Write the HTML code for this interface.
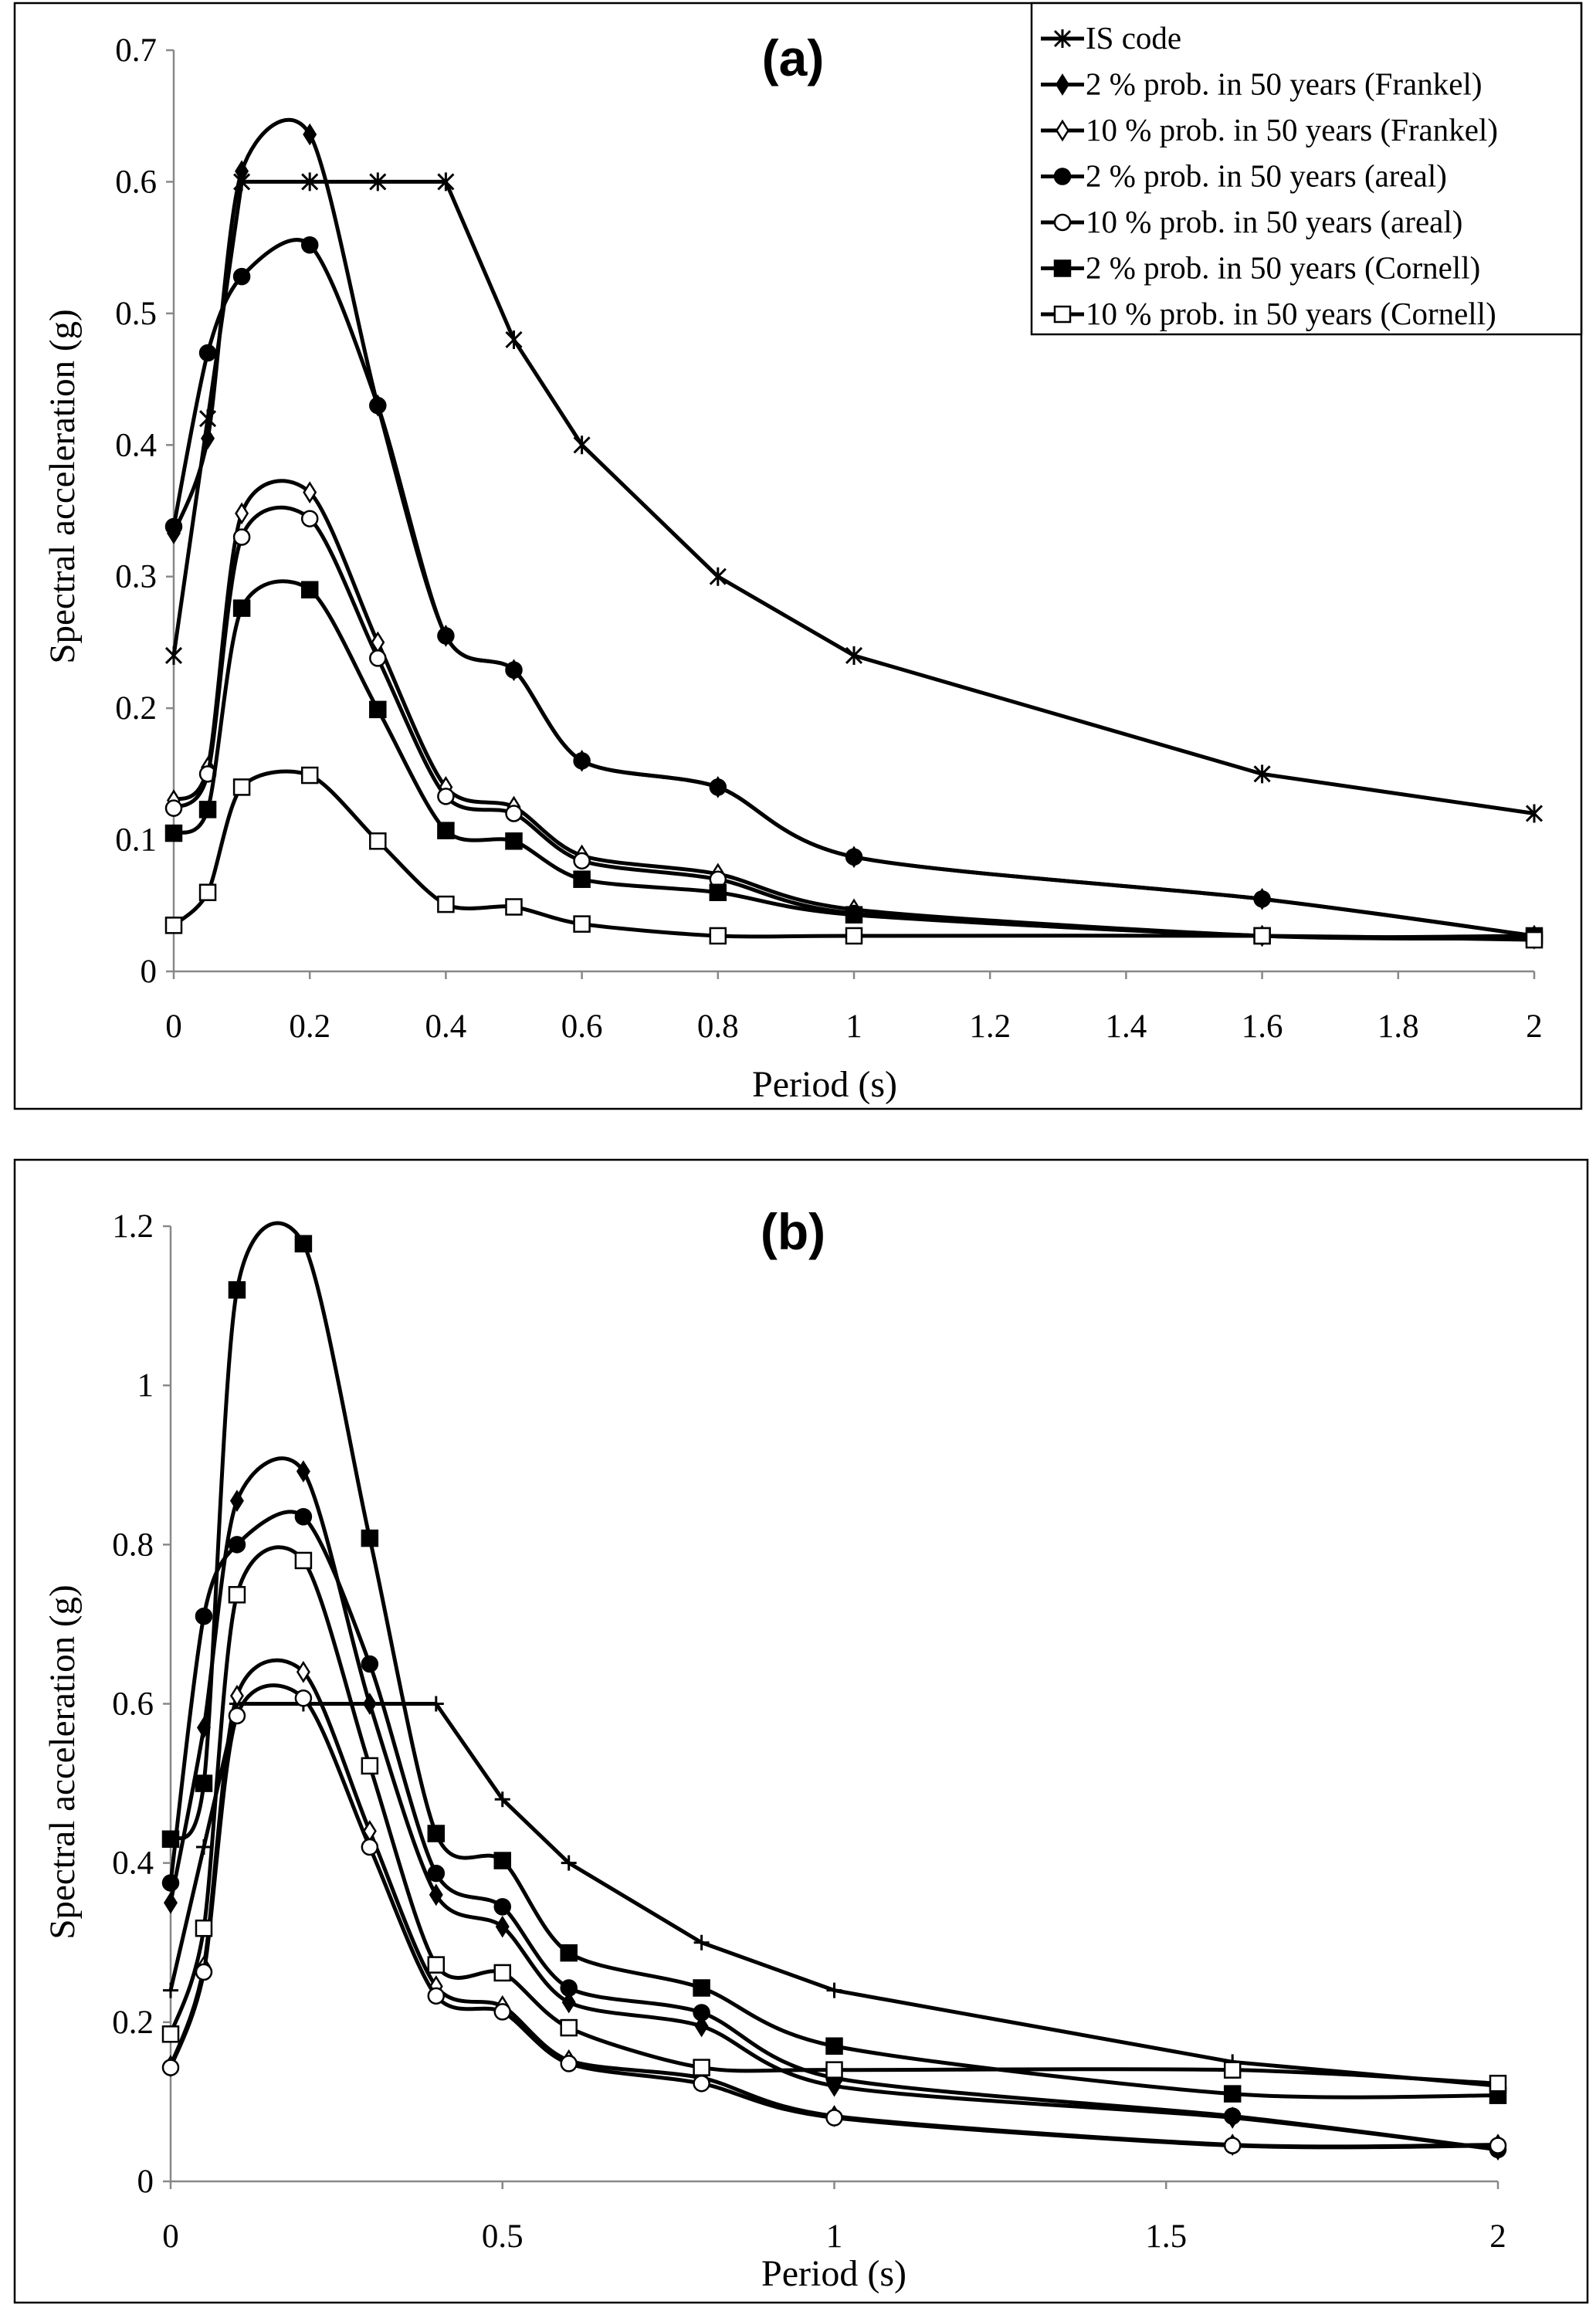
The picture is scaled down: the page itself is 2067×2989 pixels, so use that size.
<!DOCTYPE html>
<html><head><meta charset="utf-8">
<style>
html,body{margin:0;padding:0;background:#fff;}
svg{display:block;font-family:"Liberation Serif",serif;}
</style></head>
<body>
<svg id="fig" width="2067" height="2989" viewBox="0 0 2067 2989" xmlns="http://www.w3.org/2000/svg">
<rect x="0" y="0" width="2067" height="2989" fill="#fff"/>
</svg>
<script>
const xVals = [0,0.05,0.1,0.2,0.3,0.4,0.5,0.6,0.8,1,1.6,2];
const seriesNames = ["IS code","2 % prob. in 50 years (Frankel)","10 % prob. in 50 years (Frankel)","2 % prob. in 50 years (areal)","10 % prob. in 50 years (areal)","2 % prob. in 50 years (Cornell)","10 % prob. in 50 years (Cornell)"];
const aIS = [0.24,0.42,0.6,0.6,0.6,0.6,0.48,0.4,0.3,0.24,0.15,0.12];
const aFrankel2 = [0.333,0.405,0.608,0.636,0.43,0.255,0.229,0.16,0.14,0.087,0.055,0.027];
const aFrankel10 = [0.13,0.155,0.348,0.364,0.25,0.14,0.125,0.088,0.074,0.047,0.027,0.025];
const aAreal2 = [0.338,0.47,0.528,0.552,0.43,0.255,0.229,0.16,0.14,0.087,0.055,0.027];
const aAreal10 = [0.124,0.15,0.33,0.344,0.238,0.133,0.12,0.084,0.07,0.044,0.027,0.025];
const aCornell2 = [0.105,0.123,0.276,0.29,0.199,0.107,0.099,0.07,0.06,0.043,0.027,0.027];
const aCornell10 = [0.035,0.06,0.14,0.149,0.099,0.051,0.049,0.036,0.027,0.027,0.027,0.024];
const bIS = [0.24,0.42,0.6,0.6,0.6,0.6,0.48,0.4,0.3,0.24,0.15,0.12];
const bFrankel2 = [0.35,0.57,0.855,0.892,0.6,0.36,0.32,0.225,0.195,0.12,0.08,0.04];
const bFrankel10 = [0.145,0.27,0.61,0.64,0.44,0.245,0.22,0.152,0.13,0.082,0.046,0.046];
const bAreal2 = [0.375,0.71,0.8,0.835,0.65,0.387,0.345,0.243,0.212,0.13,0.082,0.04];
const bAreal10 = [0.143,0.263,0.585,0.607,0.42,0.233,0.213,0.148,0.123,0.08,0.045,0.045];
const bCornell2 = [0.43,0.5,1.12,1.178,0.808,0.437,0.403,0.287,0.243,0.17,0.11,0.108];
const bCornell10 = [0.185,0.318,0.737,0.78,0.522,0.272,0.262,0.193,0.143,0.14,0.14,0.123];
const aXTicks = ["0","0.2","0.4","0.6","0.8","1","1.2","1.4","1.6","1.8","2"];
const aYTicks = ["0","0.1","0.2","0.3","0.4","0.5","0.6","0.7"];
const bXTicks = ["0","0.5","1","1.5","2"];
const bYTicks = ["0","0.2","0.4","0.6","0.8","1","1.2"];

const NS="http://www.w3.org/2000/svg";
const svg=document.getElementById('fig');
function mk(tag,attrs,parent){const e=document.createElementNS(NS,tag);for(const k in attrs)e.setAttribute(k,attrs[k]);(parent||svg).appendChild(e);return e;}

function smoothPath(pts){
  let d="M"+pts[0][0]+","+pts[0][1];
  for(let i=0;i<pts.length-1;i++){
    const p0=pts[i-1]||pts[i],p1=pts[i],p2=pts[i+1],p3=pts[i+2]||p2;
    const t=0.14;
    const c1=[p1[0]+(p2[0]-p0[0])*t,p1[1]+(p2[1]-p0[1])*t];
    const c2=[p2[0]-(p3[0]-p1[0])*t,p2[1]-(p3[1]-p1[1])*t];
    d+=" C"+c1.join(",")+" "+c2.join(",")+" "+p2.join(",");
  }
  return d;
}
function marker(g,type,x,y,s){
  const h=s/2;
  if(type==="star"){
    mk('path',{d:`M${x-h},${y-h}L${x+h},${y+h}M${x-h},${y+h}L${x+h},${y-h}M${x},${y-h-2}L${x},${y+h+2}`,stroke:"#000","stroke-width":3,fill:"none"},g);
  }else if(type==="plus"){
    mk('path',{d:`M${x-h},${y}L${x+h},${y}M${x},${y-h}L${x},${y+h}`,stroke:"#000","stroke-width":3,fill:"none"},g);
  }else if(type==="dfill"||type==="dopen"){
    mk('path',{d:`M${x},${y-h-2}L${x+h*0.75},${y}L${x},${y+h+2}L${x-h*0.75},${y}Z`,stroke:"#000","stroke-width":2.5,fill:type==="dfill"?"#000":"#fff"},g);
  }else if(type==="cfill"||type==="copen"){
    mk('circle',{cx:x,cy:y,r:h,stroke:"#000","stroke-width":2.5,fill:type==="cfill"?"#000":"#fff"},g);
  }else{
    mk('rect',{x:x-h,y:y-h,width:s,height:s,stroke:"#000","stroke-width":2.5,fill:type==="sfill"?"#000":"#fff"},g);
  }
}

function chart(cfg){
  const g=mk('g',{});
  
  
  const fr=mk('rect',{x:cfg.frame[0],y:cfg.frame[1],width:cfg.frame[2],height:cfg.frame[3],fill:"none",stroke:"#000","stroke-width":2.5},g);
  
  
  const X=v=>cfg.x0+(v-cfg.xmin)/(cfg.xmax-cfg.xmin)*(cfg.x1-cfg.x0);
  const Y=v=>cfg.y0-(v-cfg.ymin)/(cfg.ymax-cfg.ymin)*(cfg.y0-cfg.y1);
  const ax=mk('g',{},g);
  
  
  mk('line',{x1:cfg.x0,y1:cfg.y0,x2:cfg.x1,y2:cfg.y0,stroke:"#888","stroke-width":2.5},ax);
  mk('line',{x1:cfg.x0,y1:cfg.y0,x2:cfg.x0,y2:cfg.y1,stroke:"#888","stroke-width":2.5},ax);
  cfg.xTicks.forEach(t=>{
    const v=parseFloat(t),px=X(v);
    mk('line',{x1:px,y1:cfg.y0,x2:px,y2:cfg.y0+10,stroke:"#888","stroke-width":2.5},ax);
    const tx=mk('text',{x:px,y:cfg.xLabelY,"text-anchor":"middle","font-size":43},ax);
    tx.textContent=t;
    
    
  });
  cfg.yTicks.forEach(t=>{
    const v=parseFloat(t),py=Y(v);
    mk('line',{x1:cfg.x0-10,y1:py,x2:cfg.x0,y2:py,stroke:"#888","stroke-width":2.5},ax);
    const tx=mk('text',{x:cfg.x0-22,y:py+14,"text-anchor":"end","font-size":43},ax);
    tx.textContent=t;
    
    
  });
  const xt=mk('text',{x:cfg.xTitleX,y:cfg.xTitleY,"text-anchor":"middle","font-size":48},g);
  xt.textContent="Period (s)";
  
  
  const yt=mk('text',{x:0,y:0,"text-anchor":"middle","font-size":47,transform:`translate(96,${cfg.yTitleC}) rotate(-90)`},g);
  yt.textContent="Spectral  acceleration (g)";
  
  
  const ti=mk('text',{x:cfg.titleX,y:cfg.titleY,"text-anchor":"middle","font-size":66,"font-weight":"bold","font-family":"Liberation Sans, sans-serif"},g);
  ti.textContent=cfg.title;
  
  
  cfg.series.forEach((s,i)=>{
    const sg=mk('g',{},g);
    
    
    const pts=xVals.map((xv,j)=>[X(xv),Y(s.vals[j])]);
    const d=s.straight?("M"+pts.map(p=>p.join(",")).join(" L")):smoothPath(pts);
    mk('path',{d:d,fill:"none",stroke:"#000","stroke-width":5,"stroke-linejoin":"round"},sg);
    pts.forEach(p=>marker(sg,s.m,p[0],p[1],20));
  });
  if(cfg.legend){
    const L=cfg.legend;
    const lg=mk('g',{},g);
    
    
    mk('rect',{x:L.x,y:L.y,width:L.w,height:L.h,fill:"#fff",stroke:"#000","stroke-width":2.5},lg);
    cfg.series.forEach((s,i)=>{
      const ey=L.y+46+i*59.5;
      const eg=mk('g',{},lg);
      
      
      mk('line',{x1:L.x+12,y1:ey,x2:L.x+68,y2:ey,stroke:"#000","stroke-width":5},eg);
      marker(eg,s.m,L.x+40,ey,20);
      const tx=mk('text',{x:L.x+70,y:ey+13,"font-size":41},eg);
      tx.textContent=seriesNames[i];
    });
  }
}

chart({name:"chart-a",frame:[19,4,2029,1432],x0:225,x1:1987,y0:1258,y1:65,xmin:0,xmax:2,ymin:0,ymax:0.7,
  xTicks:aXTicks,yTicks:aYTicks,xLabelY:1343,xTitleX:1068,xTitleY:1420,yTitleC:630,title:"(a)",titleX:1027,titleY:98,
  legend:{x:1336,y:4,w:712,h:429},
  series:[{key:"is-code",vals:aIS,m:"star",straight:true},{key:"frankel-2",vals:aFrankel2,m:"dfill"},{key:"frankel-10",vals:aFrankel10,m:"dopen"},
  {key:"areal-2",vals:aAreal2,m:"cfill"},{key:"areal-10",vals:aAreal10,m:"copen"},{key:"cornell-2",vals:aCornell2,m:"sfill"},{key:"cornell-10",vals:aCornell10,m:"sopen"}]});

chart({name:"chart-b",frame:[19,1502,2037,1480],x0:221,x1:1940,y0:2825,y1:1588,xmin:0,xmax:2,ymin:0,ymax:1.2,
  xTicks:bXTicks,yTicks:bYTicks,xLabelY:2910,xTitleX:1080,xTitleY:2960,yTitleC:2282,title:"(b)",titleX:1027,titleY:1618,
  series:[{key:"is-code",vals:bIS,m:"plus",straight:true},{key:"frankel-2",vals:bFrankel2,m:"dfill"},{key:"frankel-10",vals:bFrankel10,m:"dopen"},
  {key:"areal-2",vals:bAreal2,m:"cfill"},{key:"areal-10",vals:bAreal10,m:"copen"},{key:"cornell-2",vals:bCornell2,m:"sfill"},{key:"cornell-10",vals:bCornell10,m:"sopen"}]});
</script>
</body></html>
